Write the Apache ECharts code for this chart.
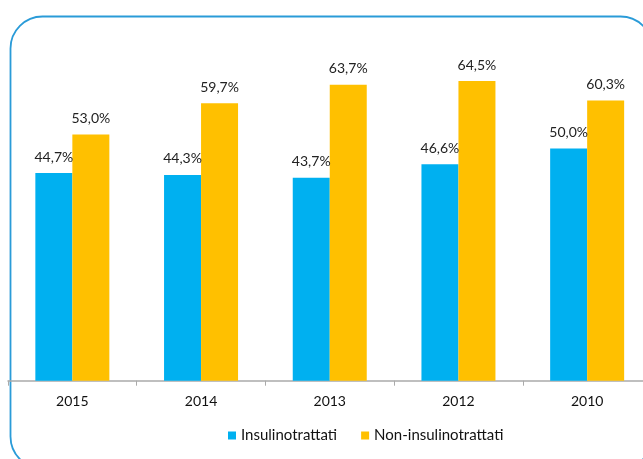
<!DOCTYPE html>
<html><head><meta charset="utf-8">
<script src="https://cdn.jsdelivr.net/npm/echarts@6/dist/echarts.min.js"></script>
<style>html,body{margin:0;padding:0;background:#fff}#c{width:643px;height:459px}</style>
</head><body><div id="c"></div>
<script>
const categories = ['2015','2014','2013','2012','2010'];
const insulinotrattati = [44.7, 44.3, 43.7, 46.6, 50.0];
const nonInsulinotrattati = [53.0, 59.7, 63.7, 64.5, 60.3];
const seriesNames = ['Insulinotrattati','Non-insulinotrattati'];

const fontFam = 'Lato, "Open Sans", sans-serif';
const fmt = p => p.value.toFixed(1).replace('.', ',') + '%';
const chart = echarts.init(document.getElementById('c'));
chart.setOption({
  animation: false,
  graphic: [{
    type: 'rect', left: 8, top: 14,
    shape: { x: 0, y: 0, width: 642, height: 452, r: 32 },
    style: { fill: 'none', stroke: '#2a9bd8', lineWidth: 1.8 }, z: 0
  }],
  grid: { left: 8, width: 643.5, top: 55.5, bottom: 78.3, containLabel: false, outerBoundsMode: 'none' },
  legend: {
    data: seriesNames, bottom: 11, left: 223, itemWidth: 8, itemHeight: 8, itemGap: 24,
    icon: 'rect',
    textStyle: { fontFamily: fontFam, fontSize: 15, color: '#111' }
  },
  xAxis: {
    type: 'category', data: categories,
    axisLine: { lineStyle: { color: '#aaaaaa', width: 1.5 } },
    axisTick: { show: true, length: 5, lineStyle: { color: '#aaaaaa' } },
    axisLabel: { fontFamily: fontFam, fontSize: 14, color: '#111', margin: 14 }
  },
  yAxis: { type: 'value', min: 0, max: 70, show: false, splitLine: { show: false } },
  series: [
    { name: seriesNames[0], type: 'bar', data: insulinotrattati, barWidth: 37, barGap: '0%',
      itemStyle: { color: '#00b0f0' },
      label: { show: true, position: 'top', distance: 9, formatter: fmt, fontFamily: fontFam, fontSize: 14, color: '#222' } },
    { name: seriesNames[1], type: 'bar', data: nonInsulinotrattati, barWidth: 37, barGap: '0%',
      itemStyle: { color: '#ffc000' },
      label: { show: true, position: 'top', distance: 9, formatter: fmt, fontFamily: fontFam, fontSize: 14, color: '#222' } }
  ]
});
</script></body></html>
